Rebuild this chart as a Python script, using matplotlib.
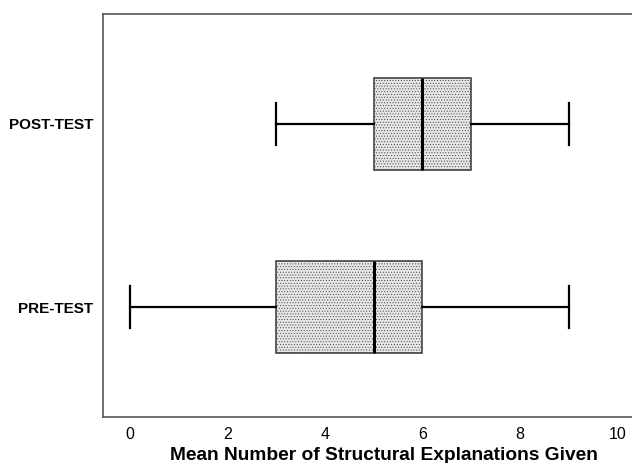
import matplotlib.pyplot as plt
import matplotlib

matplotlib.rcParams['font.family'] = ['Liberation Sans', 'DejaVu Sans']
matplotlib.rcParams['hatch.linewidth'] = 0.4
matplotlib.rcParams['hatch.color'] = '#8c8c8c'

# 五数概括（最小, Q1, 中位数, Q3, 最大）
labels = ['PRE-TEST', 'POST-TEST']
whislo = [0, 3]
q1 = [3, 5]
med = [5, 6]
q3 = [6, 7]
whishi = [9, 9]

stats = []
for i in range(len(labels)):
    stats.append({'label': labels[i], 'whislo': whislo[i], 'q1': q1[i],
                  'med': med[i], 'q3': q3[i], 'whishi': whishi[i], 'fliers': []})

fig = plt.figure(figsize=(6.32, 4.63), dpi=100)
ax = fig.add_axes([0.163, 0.099, 0.837, 0.871])

bp = ax.bxp(stats, positions=[1, 2], vert=False, widths=0.5, patch_artist=True,
            showfliers=False, capwidths=0.23,
            boxprops=dict(facecolor='#e6e6e6', edgecolor='#444444', linewidth=1.2, hatch='......'),
            medianprops=dict(color='black', linewidth=2.2),
            whiskerprops=dict(color='black', linewidth=1.6),
            capprops=dict(color='black', linewidth=1.6))

ax.set_xlim(-0.55, 10.3)
ax.set_ylim(0.4, 2.6)
ax.set_xticks([0, 2, 4, 6, 8, 10])
ax.tick_params(axis='both', length=0)
ax.tick_params(axis='x', labelsize=11.5, pad=7)
ax.tick_params(axis='y', pad=7)
for t in ax.get_yticklabels():
    t.set_fontweight('bold')
    t.set_fontsize(11)
ax.set_xlabel('Mean Number of Structural Explanations Given', fontsize=13.8, fontweight='bold')
ax.xaxis.set_label_coords(0.531, -0.073)

for s in ['left', 'top', 'bottom']:
    ax.spines[s].set_color('#555555')
    ax.spines[s].set_linewidth(1.2)
ax.spines['right'].set_visible(False)

plt.savefig('out.png', dpi=100)
